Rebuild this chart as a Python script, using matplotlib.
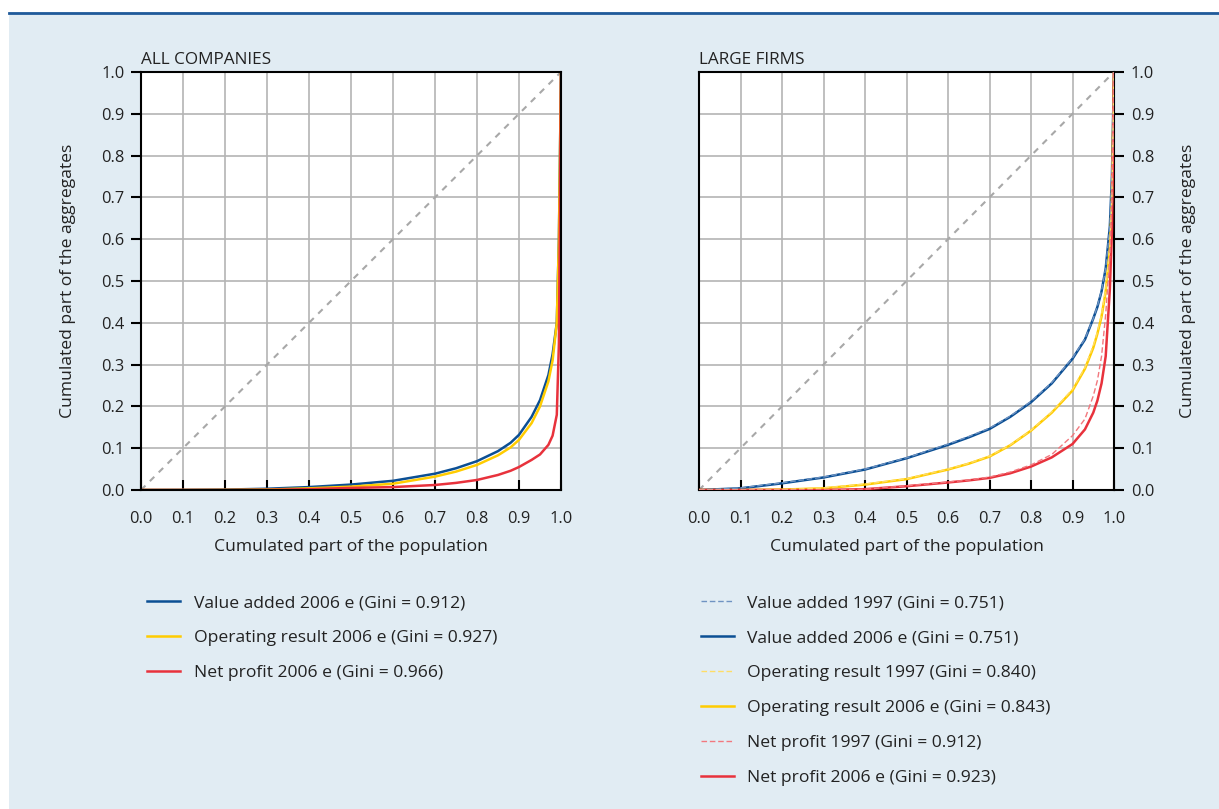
import matplotlib.pyplot as plt
import matplotlib
from matplotlib.patches import Rectangle
from matplotlib.lines import Line2D

matplotlib.rcParams["font.family"] = ["Open Sans", "DejaVu Sans"]

# ALL COMPANIES - Lorenz curves (population share -> aggregate share)
p_all = [0, 0.1, 0.2, 0.3, 0.4, 0.5, 0.6, 0.7, 0.75, 0.8, 0.85, 0.88, 0.9, 0.93, 0.95, 0.97, 0.98, 0.99, 0.995, 1.0]
va_all_2006 = [0, 0.0003, 0.001, 0.003, 0.007, 0.013, 0.022, 0.039, 0.052, 0.069, 0.093, 0.113, 0.132, 0.175, 0.215, 0.275, 0.325, 0.40, 0.60, 1.0]
or_all_2006 = [0, 0.0, 0.0003, 0.001, 0.004, 0.008, 0.015, 0.032, 0.044, 0.060, 0.083, 0.102, 0.120, 0.160, 0.200, 0.260, 0.310, 0.400, 0.600, 1.0]
np_all_2006 = [0, 0.0, 0.0, 0.0003, 0.002, 0.005, 0.007, 0.012, 0.017, 0.024, 0.036, 0.046, 0.055, 0.072, 0.085, 0.108, 0.130, 0.180, 0.350, 1.0]

# LARGE FIRMS
p_large = [0, 0.1, 0.2, 0.3, 0.4, 0.5, 0.6, 0.65, 0.7, 0.75, 0.8, 0.85, 0.9, 0.93, 0.95, 0.96, 0.97, 0.98, 0.99, 0.995, 1.0]
va_large_1997 = [0, 0.005, 0.017, 0.031, 0.050, 0.077, 0.110, 0.128, 0.148, 0.177, 0.212, 0.257, 0.316, 0.362, 0.410, 0.440, 0.477, 0.530, 0.630, 0.750, 1.0]
va_large_2006 = [0, 0.004, 0.016, 0.030, 0.049, 0.076, 0.108, 0.126, 0.146, 0.175, 0.210, 0.255, 0.314, 0.360, 0.410, 0.438, 0.475, 0.530, 0.630, 0.750, 1.0]
or_large_1997 = [0, 0.0, 0.001, 0.005, 0.014, 0.027, 0.050, 0.064, 0.081, 0.108, 0.143, 0.187, 0.241, 0.293, 0.345, 0.378, 0.420, 0.480, 0.580, 0.700, 1.0]
or_large_2006 = [0, 0.0, 0.001, 0.004, 0.013, 0.026, 0.049, 0.063, 0.080, 0.107, 0.142, 0.185, 0.238, 0.290, 0.340, 0.374, 0.415, 0.475, 0.575, 0.700, 1.0]
np_large_1997 = [0, 0.0, 0.0, 0.0, 0.002, 0.010, 0.019, 0.024, 0.031, 0.043, 0.060, 0.085, 0.130, 0.170, 0.225, 0.262, 0.320, 0.420, 0.560, 0.700, 1.0]
np_large_2006 = [0, 0.0, 0.0, 0.0, 0.002, 0.009, 0.018, 0.023, 0.029, 0.040, 0.056, 0.078, 0.110, 0.145, 0.185, 0.214, 0.255, 0.320, 0.480, 0.620, 1.0]

ticks = [0.0, 0.1, 0.2, 0.3, 0.4, 0.5, 0.6, 0.7, 0.8, 0.9, 1.0]
tick_labels = ["%.1f" % t for t in ticks]

labels_all = ["Value added 2006 e (Gini = 0.912)",
              "Operating result 2006 e (Gini = 0.927)",
              "Net profit 2006 e (Gini = 0.966)"]
labels_large = ["Value added 1997 (Gini = 0.751)",
                "Value added 2006 e (Gini = 0.751)",
                "Operating result 1997 (Gini = 0.840)",
                "Operating result 2006 e (Gini = 0.843)",
                "Net profit 1997 (Gini = 0.912)",
                "Net profit 2006 e (Gini = 0.923)"]

BLUE = "#0b4f94"
YELLOW = "#ffcc00"
RED = "#e8323c"
BLUE_L = "#6f93c2"
YELLOW_L = "#ffdd66"
RED_L = "#f2787e"
BG = "#e1ecf3"
TXT = "#222222"

fig = plt.figure(figsize=(12.19, 8.09), dpi=100)
fig.patches.append(Rectangle((9 / 1219, 0), 1 - 9 / 1219, 1 - 12 / 809,
                             transform=fig.transFigure, facecolor=BG,
                             edgecolor="none", zorder=-10))
fig.lines.append(Line2D([9 / 1219, 1], [1 - 13 / 809, 1 - 13 / 809],
                        transform=fig.transFigure, color="#1f5a9a", lw=2))

ax1 = fig.add_axes([141 / 1219, 1 - 490 / 809, 420 / 1219, 418 / 809])
ax2 = fig.add_axes([699 / 1219, 1 - 490 / 809, 415 / 1219, 418 / 809])


def style(ax, title, right):
    ax.set_facecolor("white")
    ax.set_xlim(0, 1)
    ax.set_ylim(0, 1)
    ax.set_xticks(ticks)
    ax.set_yticks(ticks)
    ax.set_xticklabels(tick_labels, fontsize=11.8, color=TXT)
    ax.set_yticklabels(tick_labels, fontsize=11.8, color=TXT)
    ax.grid(True, color="#b4b4b4", lw=1.2)
    ax.set_axisbelow(True)
    for s in ax.spines.values():
        s.set_color("black")
        s.set_linewidth(1.5)
    ax.tick_params(axis="x", direction="in", length=7, width=1.5, pad=15)
    if right:
        ax.yaxis.tick_right()
        ax.yaxis.set_label_position("right")
    ax.tick_params(axis="y", direction="out", length=7, width=1.5, pad=5)
    ax.set_xlabel("Cumulated part of the population", fontsize=12.6, color=TXT, labelpad=9)
    ax.set_ylabel("Cumulated part of the aggregates", fontsize=12.6, color=TXT,
                  labelpad=18 if not right else 19, rotation=90)
    ax.set_title(title, loc="left", fontsize=12.3, color=TXT, pad=6)
    ax.plot([0, 1], [0, 1], color="#a8a8a8", lw=1.5, ls=(0, (3, 3)), zorder=2)


style(ax1, "ALL COMPANIES", False)
style(ax2, "LARGE FIRMS", True)

leg_kw = dict(loc="upper left", frameon=False, fontsize=12.6, handlelength=1.9,
              handletextpad=0.75, labelspacing=1.07, borderaxespad=0, labelcolor=TXT)

ax1.plot(p_all, va_all_2006, color=BLUE, lw=1.8, label=labels_all[0])
ax1.plot(p_all, or_all_2006, color=YELLOW, lw=1.8, label=labels_all[1])
ax1.plot(p_all, np_all_2006, color=RED, lw=1.8, label=labels_all[2])
ax1.legend(bbox_to_anchor=(-0.002, -0.235), **leg_kw)

ax2.plot(p_large, va_large_1997, color=BLUE_L, lw=1.0, ls=(0, (4, 2)), label=labels_large[0], zorder=4)
ax2.plot(p_large, va_large_2006, color=BLUE, lw=1.8, label=labels_large[1], zorder=3)
ax2.plot(p_large, or_large_1997, color=YELLOW_L, lw=1.0, ls=(0, (4, 2)), label=labels_large[2], zorder=4)
ax2.plot(p_large, or_large_2006, color=YELLOW, lw=1.8, label=labels_large[3], zorder=3)
ax2.plot(p_large, np_large_1997, color=RED_L, lw=1.0, ls=(0, (4, 2)), label=labels_large[4], zorder=4)
ax2.plot(p_large, np_large_2006, color=RED, lw=1.8, label=labels_large[5], zorder=3)
ax2.legend(bbox_to_anchor=(-0.012, -0.235), **leg_kw)

plt.savefig("out.png", dpi=100)
